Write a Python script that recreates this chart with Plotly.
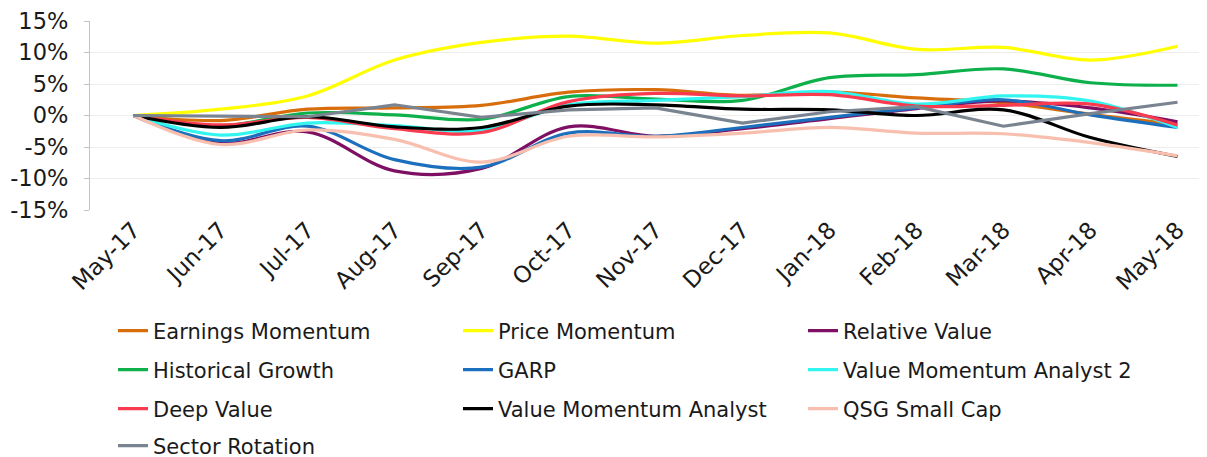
import plotly.graph_objects as go

months = ["May-17", "Jun-17", "Jul-17", "Aug-17", "Sep-17", "Oct-17", "Nov-17",
          "Dec-17", "Jan-18", "Feb-18", "Mar-18", "Apr-18", "May-18"]

earnings_momentum = [0, -0.8, 1.0, 1.2, 1.6, 3.7, 4.1, 3.2, 3.7, 2.8, 2.0, 0.2, -1.4]
price_momentum = [0, 1.0, 3.1, 8.8, 11.6, 12.6, 11.5, 12.7, 13.1, 10.5, 10.8, 8.8, 11.0]
relative_value = [0, -4.4, -2.6, -8.8, -8.4, -1.8, -3.3, -2.1, -0.5, 1.1, 2.3, 1.2, -1.0]
historical_growth = [0, -1.6, 0.4, 0.1, -0.6, 3.0, 2.6, 2.4, 6.0, 6.5, 7.4, 5.2, 4.8]
garp = [0, -4.0, -1.7, -7.0, -8.2, -2.8, -3.3, -1.9, -0.3, 1.2, 2.5, 0.1, -1.9]
value_momentum_analyst_2 = [0, -3.1, -1.2, -1.6, -2.4, 1.7, 2.4, 3.0, 3.8, 1.8, 3.1, 2.3, -1.9]
deep_value = [0, -1.5, -0.3, -2.1, -2.7, 2.2, 3.5, 3.1, 3.3, 1.5, 1.6, 1.8, -1.5]
value_momentum_analyst = [0, -1.9, -0.2, -1.8, -1.9, 1.5, 1.7, 1.0, 0.9, 0.0, 0.9, -3.5, -6.5]
qsg_small_cap = [0, -4.6, -2.3, -3.8, -7.4, -3.3, -3.4, -2.8, -1.9, -2.8, -2.9, -4.3, -6.4]
sector_rotation = [0, -0.1, -0.2, 1.7, -0.3, 0.9, 1.2, -1.2, 0.6, 1.4, -1.7, 0.3, 2.1]

y_ticks = [-15, -10, -5, 0, 5, 10, 15]
y_tick_labels = [f"{v}%" for v in y_ticks]

series = [
    ("Earnings Momentum", earnings_momentum, "#D86D0C", "spline", "legend"),
    ("Price Momentum", price_momentum, "#FFFF00", "spline", "legend"),
    ("Relative Value", relative_value, "#7F0F62", "spline", "legend"),
    ("Historical Growth", historical_growth, "#0DB04B", "spline", "legend2"),
    ("GARP", garp, "#1C6FBD", "spline", "legend2"),
    ("Value Momentum Analyst 2", value_momentum_analyst_2, "#33F5F0", "spline", "legend2"),
    ("Deep Value", deep_value, "#F93A4F", "spline", "legend3"),
    ("Value Momentum Analyst", value_momentum_analyst, "#000000", "spline", "legend3"),
    ("QSG Small Cap", qsg_small_cap, "#F8BFAE", "spline", "legend3"),
    ("Sector Rotation", sector_rotation, "#7A8490", "linear", "legend4"),
]

fig = go.Figure()
for name, vals, color, shape, leg in series:
    fig.add_trace(go.Scatter(
        x=months, y=vals, name=name, mode="lines",
        line=dict(color=color, width=3.2, shape=shape, smoothing=1.0),
        legend=leg,
    ))

FONT = "DejaVu Sans"
TXT = "#1a1a1a"
xr = [-0.5, 12.431]

fig.update_layout(
    template="none",
    width=1207, height=457,
    margin=dict(l=82, r=0, t=13, b=255, autoexpand=False),
    paper_bgcolor="white", plot_bgcolor="white",
    font=dict(family=FONT, size=21, color=TXT),
    xaxis=dict(
        type="category", categoryorder="array", categoryarray=months,
        range=xr, showgrid=False, showline=False, ticks="",
        tickangle=-45, tickfont=dict(size=23, color=TXT), ticklabelstandoff=1,
        zeroline=False, automargin=False, ticklabeloverflow="allow",
    ),
    xaxis2=dict(
        type="category", categoryorder="array", categoryarray=months,
        overlaying="x", matches="x", anchor="free", position=0.5,
        showgrid=False, showline=True, linecolor="#a3a3a3", linewidth=1.3,
        ticks="outside", tickson="boundaries", ticklen=7, tickcolor="#a3a3a3",
        tickwidth=1.3, showticklabels=False, zeroline=False, automargin=False,
    ),
    yaxis=dict(
        range=[-15, 15], tickmode="array", tickvals=y_ticks, ticktext=y_tick_labels,
        showgrid=True, gridcolor="#ededed", gridwidth=1.3,
        showline=True, linecolor="#c3c3c3", linewidth=1.3,
        ticks="outside", ticklen=5, tickcolor="#c3c3c3",
        tickfont=dict(size=22.5, color=TXT), zeroline=False, ticklabelstandoff=11,
        automargin=False, ticklabeloverflow="allow",
    ),
    yaxis2=dict(
        overlaying="y", matches="y", range=[-15, 15],
        tickmode="array", tickvals=[-10, -5, 5, 10], showgrid=True, gridcolor="#b2b2b2",
        gridwidth=1.3, showticklabels=False, ticks="", showline=False,
        zeroline=False, automargin=False,
    ),
    showlegend=True,
)

leg_common = dict(orientation="h", xanchor="left", yanchor="middle",
                  xref="container", yref="container",
                  x=105 / 1207, entrywidth=300, entrywidthmode="pixels",
                  font=dict(family=FONT, size=21, color=TXT),
                  bgcolor="rgba(0,0,0,0)", itemclick=False)
rows_px = [331, 370, 409, 446]
legs = ["legend", "legend2", "legend3", "legend4"]
for lg, ypx in zip(legs, rows_px):
    fig.update_layout({lg: dict(leg_common, y=1 - (ypx - 8) / 457)})

fig.write_html("out.html")
